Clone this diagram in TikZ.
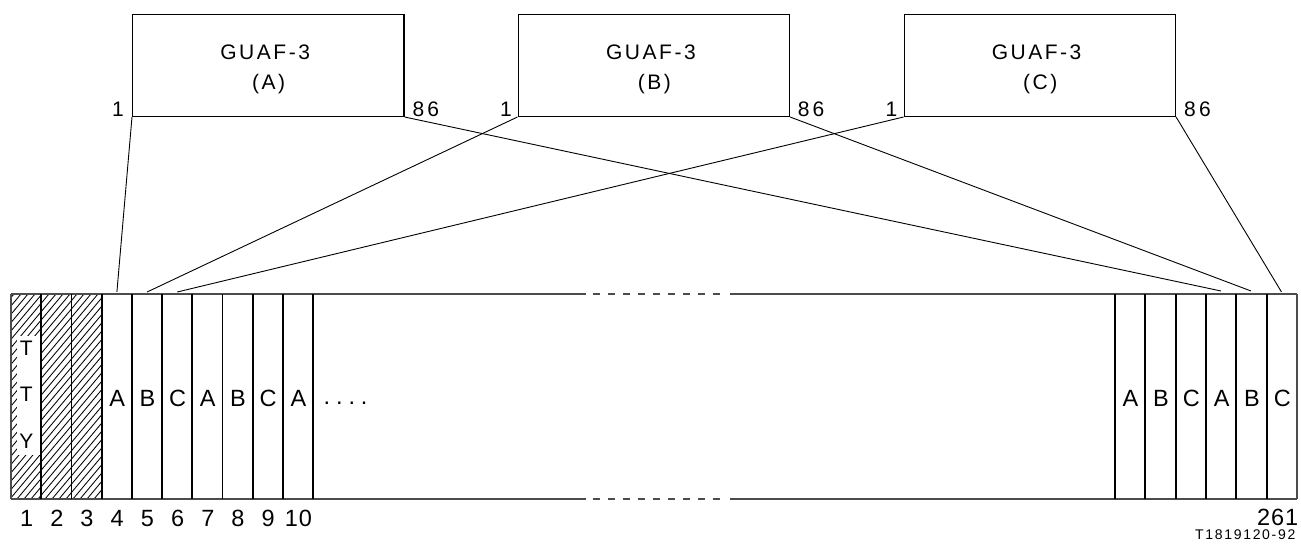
\documentclass[tikz,border=0pt]{standalone}
\usepackage{fontspec}
\setmainfont{Liberation Sans}[LetterSpace=12]
\newfontfamily\colfont{Liberation Sans}[LetterSpace=4]
\newfontfamily\dotfont{Liberation Sans}[LetterSpace=25]
\begin{document}
\begin{tikzpicture}[x=1pt,y=-1pt,
  guaf/.style={draw, line width=1.3pt, minimum width=271.3pt, minimum height=101.7pt, inner sep=0pt, anchor=north west},
  lbl/.style={font=\fontsize{21}{25}\selectfont, inner sep=0pt, anchor=base},
  port/.style={font=\fontsize{21}{25}\selectfont\addfontfeature{LetterSpace=15}, inner sep=0pt},
  col/.style={font=\colfont\fontsize{23.5}{27}\selectfont, inner sep=0pt, anchor=base},
  small/.style={font=\fontsize{14}{16}\selectfont, inner sep=0pt, anchor=base east},
  conn/.style={line width=0.9pt},
  frameline/.style={line width=1.6pt, draw=black!70},
  divider/.style={line width=1.8pt},
  hatchline/.style={line width=0.85pt}
]
\useasboundingbox (0,0) rectangle (1301,548);

% GUAF boxes
\node[guaf] (boxA) at (132,14) {};
\node[guaf] (boxB) at (517.5,14) {};
\node[guaf] (boxC) at (903.5,14) {};

\node[lbl] (tA1) at (265.2,60) {GUAF-3};
\node[lbl] (tA2) at (268.7,89.5) {(A)};
\node[lbl] (tB1) at (650.9,60) {GUAF-3};
\node[lbl] (tB2) at (654.3,89.5) {(B)};
\node[lbl] (tC1) at (1036.6,60) {GUAF-3};
\node[lbl] (tC2) at (1040.2,89.5) {(C)};

% port labels
\node[port, anchor=base east] (pA1) at (124,117) {1};
\node[port, anchor=base west] (pA86) at (412.4,117) {86};
\node[port, anchor=base east] (pB1) at (512,117) {1};
\node[port, anchor=base west] (pB86) at (797.6,117) {86};
\node[port, anchor=base east] (pC1) at (897.5,117) {1};
\node[port, anchor=base west] (pC86) at (1184,117) {86};

% hatched columns 1-3
\begin{scope}
  \clip (11,294) rectangle (101.6,499);
  \foreach \i in {0,...,40} {
    \draw[hatchline] ({-165+7*\i},499) -- ({-165+7*\i+172},294);
  }
\end{scope}
\fill[white] (17,336) rectangle (40.2,455);

% frame
\draw[frameline] (11,294) -- (585.7,294);
\draw[frameline, dash pattern=on 7.3pt off 7.7pt] (592.7,294) -- (722,294);
\draw[frameline] (730,294) -- (1297,294);
\draw[frameline] (11,499) -- (585.7,499);
\draw[frameline, dash pattern=on 7.3pt off 7.7pt] (592.7,499) -- (722,499);
\draw[frameline] (730,499) -- (1297,499);
\draw[frameline] (11,294) -- (11,499);
\draw[frameline] (1297,294) -- (1297,499);

% column dividers
\foreach \k in {1,...,10} {
  \draw[divider] ({11+30.2*\k},294) -- ({11+30.2*\k},499);
}
\foreach \k in {1,...,6} {
  \draw[divider] ({1297-30.35*\k},294) -- ({1297-30.35*\k},499);
}

% TTY
\node[lbl] (tty1) at (26.4,355) {T};
\node[lbl] (tty2) at (26.4,401) {T};
\node[lbl] (tty3) at (26.4,448) {Y};

% column letters left
\foreach \k/\t in {3/A,4/B,5/C,6/A,7/B,8/C,9/A} {
  \node[col] (L\k) at ({11+30.2*\k+15.1+0.5},406) {\t};
}
\node[col, anchor=base west, font=\dotfont\fontsize{23.5}{27}\selectfont] (dots) at (323.5,404) {....};

% column letters right
\foreach \k/\t in {5/A,4/B,3/C,2/A,1/B,0/C} {
  \node[col] (R\k) at ({1297-30.35*\k-15.2+0.5},406) {\t};
}

% column numbers
\foreach \k in {1,...,10} {
  \node[col] (n\k) at ({11+30.2*\k-15.1+0.5},526.5) {\k};
}
\node[col, anchor=base east] (n261) at (1298.5,525.5) {261};
\node[small] (code) at (1295.5,539) {T1819120-92};

% connector end points
\coordinate (e4) at (116.9,292);
\coordinate (e5) at (147.1,292);
\coordinate (e6) at (177.3,292);
\coordinate (eA) at (1221,291);
\coordinate (eB) at (1251,291);
\coordinate (eC) at (1281.5,292);

\draw[conn] (boxA.south west) -- (e4);
\draw[conn] (boxB.south west) -- (e5);
\draw[conn] (boxC.south west) -- (e6);
\draw[conn] (boxA.south east) -- (eA);
\draw[conn] (boxB.south east) -- (eB);
\draw[conn] (boxC.south east) -- (eC);
\end{tikzpicture}
\end{document}
